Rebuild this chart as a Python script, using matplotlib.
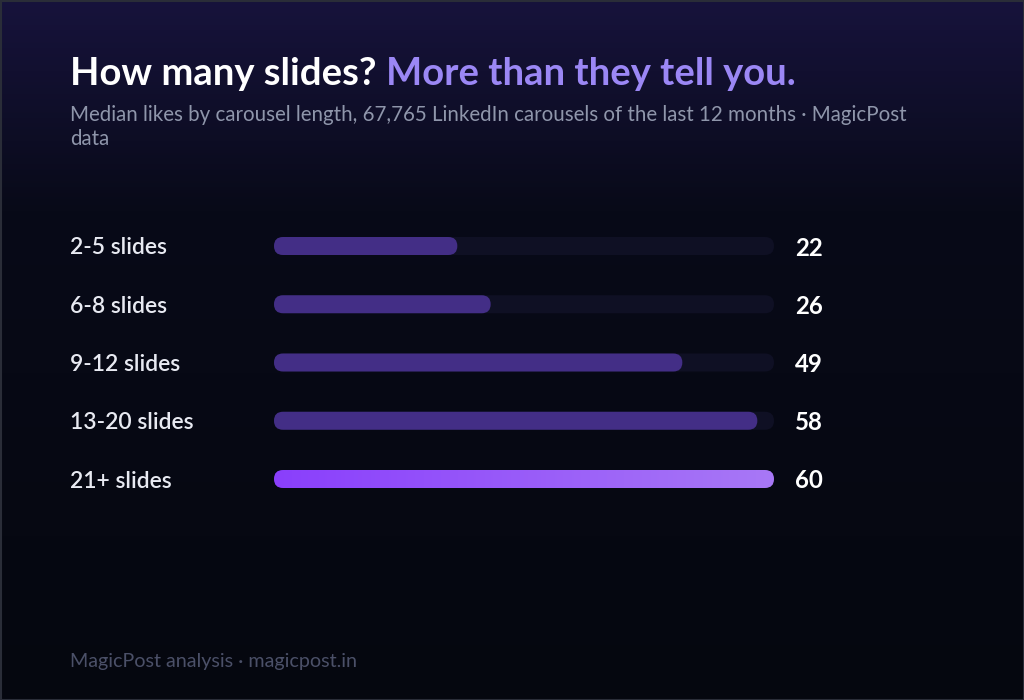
import numpy as np
import matplotlib
matplotlib.use("Agg")
import matplotlib.pyplot as plt
from matplotlib.patches import FancyBboxPatch, Rectangle
from matplotlib.colors import LinearSegmentedColormap

plt.rcParams["font.family"] = ["Lato", "DejaVu Sans"]

# ---- data ----
categories = ["2-5 slides", "6-8 slides", "9-12 slides", "13-20 slides", "21+ slides"]
median_likes = [22, 26, 49, 58, 60]

title_white = "How many slides? "
title_accent = "More than they tell you."
subtitle_lines = [
    "Median likes by carousel length, 67,765 LinkedIn carousels of the last 12 months \u00b7 MagicPost",
    "data",
]
footer = "MagicPost analysis \u00b7 magicpost.in"

W, H = 1024, 700
fig = plt.figure(figsize=(W / 100, H / 100), dpi=100)

# background in pixel coordinates
bg = fig.add_axes([0, 0, 1, 1])
grad = LinearSegmentedColormap.from_list(
    "bg", [(0, "#17133c"), (0.3, "#080a18"), (1, "#05070f")])
bg.imshow(np.linspace(0, 1, 256).reshape(-1, 1), cmap=grad, aspect="auto",
          extent=(0, W, H, 0), zorder=0)
bg.set_xlim(0, W)
bg.set_ylim(H, 0)
bg.axis("off")
bg.add_patch(Rectangle((0.5, 0.5), W - 1, H - 1, fill=False,
                       edgecolor="#2a2d38", linewidth=1.5, zorder=1))

# title, two colours
t1 = bg.text(70, 85, title_white, color="white", fontsize=27.5, fontweight="bold",
             va="baseline", ha="left")
fig.canvas.draw()
bb = t1.get_window_extent()
bg.text(bb.x1, 85, title_accent, color="#9b87f5", fontsize=27.5, fontweight="bold",
        va="baseline", ha="left")
for k, line in enumerate(subtitle_lines):
    bg.text(70, 121 + 24 * k, line, color="#8f96ab", fontsize=14.8,
            va="baseline", ha="left")
bg.text(70, 667, footer, color="#4b5068", fontsize=14.2, va="baseline", ha="left")

# bar axes: x from 274px to 774px, rows centred at 246..479px
x0, x1 = 274, 774
row_top, row_bot = 246, 479
n = len(categories)
step = (row_bot - row_top) / (n - 1)
ax_bottom = (H - row_bot - step / 2) / H
ax_height = (step * n) / H
ax = fig.add_axes([x0 / W, ax_bottom, (x1 - x0) / W, ax_height])
ax.axis("off")
ax.patch.set_alpha(0)

top = max(median_likes)
bar_px = 18
bar_h = bar_px / step                       # in row units
x_per_px = top / (x1 - x0)
r_x = bar_px / 2 * x_per_px
aspect = (bar_h / 2) / r_x


def rounded(x, y, w, h, **kw):
    return FancyBboxPatch((x, y - h / 2), w, h,
                          boxstyle=f"round,pad=0,rounding_size={r_x}",
                          mutation_aspect=aspect, **kw)


bar_grad = LinearSegmentedColormap.from_list("bar", ["#8a3ffc", "#a878f6"])
for i, (cat, v) in enumerate(zip(categories, median_likes)):
    ax.add_patch(rounded(0, i, top, bar_h, facecolor="#0f1024",
                         edgecolor="none", zorder=1))
    if v == top:
        clip = rounded(0, i, v, bar_h, facecolor="none", edgecolor="none")
        ax.add_patch(clip)
        im = ax.imshow(np.linspace(0, 1, 256).reshape(1, -1), cmap=bar_grad,
                       aspect="auto", extent=(0, v, i + bar_h / 2, i - bar_h / 2),
                       zorder=2)
        im.set_clip_path(clip)
    else:
        ax.add_patch(rounded(0, i, v, bar_h, facecolor="#432e86",
                             edgecolor="none", zorder=2))
    # category label at x=70px, value 21px right of the track
    ax.text(-(x0 - 70) * x_per_px, i, cat, color="#e8eaf2", fontsize=16.5,
            fontweight="semibold", va="center_baseline", ha="left")
    ax.text(top + 21 * x_per_px, i, str(v), color="white", fontsize=17.3,
            fontweight="bold", va="center_baseline", ha="left")

ax.set_xlim(0, top)
ax.set_ylim(n - 0.5, -0.5)

fig.savefig("out.png", dpi=100, facecolor="#05070f")
